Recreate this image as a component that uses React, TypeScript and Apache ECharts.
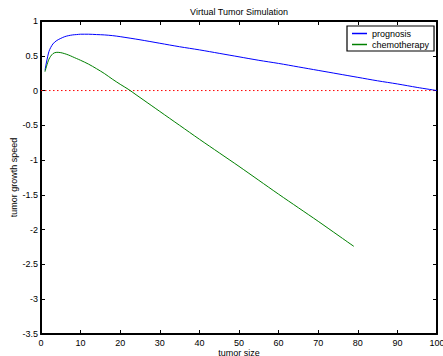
import React, { useEffect, useRef } from "react";
import * as echarts from "echarts";

const prognosisX = [1, 2, 3, 4, 5, 6, 7, 8, 9, 10, 12, 14, 16, 18, 20, 25, 30, 35, 40, 45, 50, 55, 60, 65, 70, 75, 80, 85, 90, 95, 100];
const prognosisY = [0.29, 0.56, 0.67, 0.72, 0.75, 0.775, 0.79, 0.8, 0.805, 0.81, 0.81, 0.805, 0.8, 0.79, 0.775, 0.73, 0.68, 0.63, 0.585, 0.535, 0.485, 0.435, 0.39, 0.34, 0.29, 0.24, 0.19, 0.14, 0.095, 0.045, 0.0];

const chemoX = [1, 2, 3, 4, 5, 6, 7, 8, 9, 10, 12, 14, 16, 18, 20, 22, 24, 26, 28, 30, 35, 40, 45, 50, 55, 60, 65, 70, 75, 79];
const chemoY = [0.27, 0.45, 0.53, 0.55, 0.545, 0.53, 0.51, 0.485, 0.46, 0.435, 0.38, 0.315, 0.245, 0.165, 0.09, 0.02, -0.06, -0.14, -0.22, -0.3, -0.5, -0.7, -0.895, -1.09, -1.29, -1.49, -1.685, -1.88, -2.08, -2.24];

const zeroX = [0, 100];
const zeroY = [0, 0];

const seriesNames = ["prognosis", "chemotherapy"];
const titleText = "Virtual Tumor Simulation";
const xName = "tumor size";
const yName = "tumor growth speed";

const FONT = 'Arial, "Liberation Sans", sans-serif';

export default function App() {
  const ref = useRef<HTMLDivElement>(null);
  useEffect(() => {
    if (!ref.current) return;
    const chart = echarts.init(ref.current, null, { renderer: "svg" });
    const pair = (xs: number[], ys: number[]) => xs.map((x, i) => [x, ys[i]]);
    const axisLine = { show: true, onZero: false, lineStyle: { color: "#000", width: 2 } };
    const axisTick = { show: true, inside: true, length: 4, lineStyle: { color: "#000", width: 1 } };
    chart.setOption({
      animation: false,
      backgroundColor: "#fff",
      graphic: [
        {
          type: "text",
          x: 239,
          y: 12,
          style: {
            text: titleText,
            fill: "#000",
            font: `9px ${FONT}`,
            textAlign: "center",
            textVerticalAlign: "middle",
          },
        },
      ],
      legend: {
        data: seriesNames,
        orient: "vertical",
        left: 347,
        top: 26,
        padding: [2, 5, 1, 5],
        itemGap: 0,
        itemWidth: 15,
        itemHeight: 1.5,
        icon: "rect",
        borderColor: "#000",
        borderWidth: 1.2,
        backgroundColor: "#fff",
        textStyle: { fontSize: 9, fontFamily: FONT, color: "#000", lineHeight: 11 },
      },
      grid: { left: 41, right: 6, top: 21, bottom: 22, containLabel: false, outerBoundsMode: "none" },
      xAxis: [
        {
          type: "value",
          min: 0,
          max: 100,
          interval: 10,
          position: "bottom",
          name: xName,
          nameLocation: "middle",
          nameGap: 14,
          nameMoveOverlap: false,
          nameTextStyle: { fontSize: 9, fontFamily: FONT, color: "#000" },
          axisLine,
          axisTick,
          splitLine: { show: false },
          axisLabel: { fontSize: 9, fontFamily: FONT, color: "#000", margin: 4, hideOverlap: false },
        },
        {
          type: "value",
          min: 0,
          max: 100,
          interval: 10,
          position: "top",
          axisLine,
          axisTick,
          splitLine: { show: false },
          axisLabel: { show: false },
        },
      ],
      yAxis: [
        {
          type: "value",
          min: -3.5,
          max: 1,
          interval: 0.5,
          position: "left",
          name: yName,
          nameLocation: "middle",
          nameGap: 23,
          nameMoveOverlap: false,
          nameRotate: 90,
          nameTextStyle: { fontSize: 9, fontFamily: FONT, color: "#000" },
          axisLine,
          axisTick,
          splitLine: { show: false },
          axisLabel: { fontSize: 9, fontFamily: FONT, color: "#000", margin: 3 },
        },
        {
          type: "value",
          min: -3.5,
          max: 1,
          interval: 0.5,
          position: "right",
          axisLine,
          axisTick,
          splitLine: { show: false },
          axisLabel: { show: false },
        },
      ],
      series: [
        {
          name: seriesNames[0],
          type: "line",
          data: pair(prognosisX, prognosisY),
          symbol: "none",
          smooth: 0.3,
          lineStyle: { color: "#0000ff", width: 1 },
          itemStyle: { color: "#0000ff" },
          z: 3,
        },
        {
          name: seriesNames[1],
          type: "line",
          data: pair(chemoX, chemoY),
          symbol: "none",
          smooth: 0.3,
          lineStyle: { color: "#008000", width: 1 },
          itemStyle: { color: "#008000" },
          z: 3,
        },
        {
          name: "zero",
          type: "line",
          data: pair(zeroX, zeroY),
          symbol: "none",
          lineStyle: { color: "#ff0000", width: 1, type: [1.5, 2.5] },
          itemStyle: { color: "#ff0000" },
          z: 2,
        },
      ],
    });
    return () => chart.dispose();
  }, []);
  return <div ref={ref} style={{ width: 443, height: 356, position: "absolute", left: 0, top: 0 }} />;
}
